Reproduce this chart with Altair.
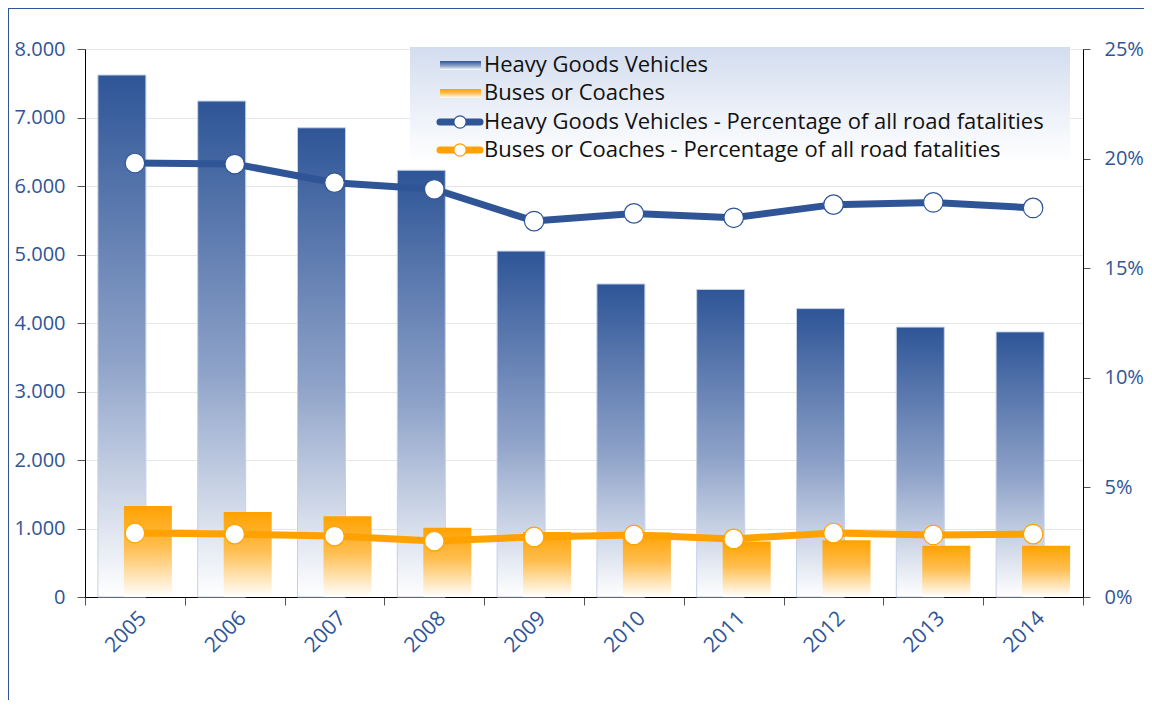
import altair as alt
import pandas as pd

years = ["2005", "2006", "2007", "2008", "2009", "2010", "2011", "2012", "2013", "2014"]
hgv_fatalities = [7620, 7240, 6850, 6230, 5050, 4570, 4490, 4210, 3940, 3870]
bus_fatalities = [1330, 1240, 1180, 1010, 950, 940, 810, 830, 750, 750]
hgv_share = [19.8, 19.75, 18.9, 18.6, 17.15, 17.5, 17.3, 17.9, 18.0, 17.75]
bus_share = [2.92, 2.87, 2.78, 2.55, 2.74, 2.83, 2.65, 2.92, 2.83, 2.87]
left_ticks = [0, 1000, 2000, 3000, 4000, 5000, 6000, 7000, 8000]
right_ticks = [0, 5, 10, 15, 20, 25]
legend_labels = [
    "Heavy Goods Vehicles",
    "Buses or Coaches",
    "Heavy Goods Vehicles - Percentage of all road fatalities",
    "Buses or Coaches - Percentage of all road fatalities",
]

BLUE = "#2F5597"
ORANGE = "#FFA200"
FONT = "Open Sans"


def vgrad(stops):
    return {
        "gradient": "linear", "x1": 0, "x2": 0, "y1": 0, "y2": 1,
        "stops": [{"offset": o, "color": c} for o, c in stops],
    }


hgv_grad = vgrad([(0, "#2E5597"), (0.55, "#8FA3C9"), (1, "#FFFFFF")])
bus_grad = vgrad([(0, "#FFA200"), (0.45, "#FFBE50"), (1, "#FFFFFF")])

df = pd.DataFrame({
    "year": years,
    "hgv": hgv_fatalities,
    "bus": bus_fatalities,
    "hgv_pct": hgv_share,
    "bus_pct": bus_share,
})

x_enc = alt.X(
    "year:N", title=None,
    scale=alt.Scale(paddingInner=0, paddingOuter=0),
    axis=alt.Axis(labelAngle=315, tickBand="extent", tickSize=8, labelPadding=2,
                  domainColor="#000000", grid=False, labelFontSize=21),
)

left_axis = alt.Axis(
    values=left_ticks, title=None, tickSize=8, labelPadding=12, grid=True,
    labelExpr="replace(format(datum.value, ',d'), ',', '.')",
)
left_scale = alt.Scale(domain=[0, 8000], nice=False)

hgv_bars = alt.Chart(df).mark_bar(
    width=48, xOffset=-13, color=hgv_grad, stroke="#C5D1E8", strokeWidth=1
).encode(x=x_enc, y=alt.Y("hgv:Q", scale=left_scale, axis=left_axis))

bus_bars = alt.Chart(df).mark_bar(
    width=48, xOffset=13, color=bus_grad, strokeWidth=0
).encode(x=x_enc, y=alt.Y("bus:Q", scale=left_scale, axis=left_axis))

right_axis = alt.Axis(
    orient="right", values=right_ticks, title=None, tickSize=7, labelPadding=14,
    grid=False, labelExpr="datum.value + '%'",
)
right_scale = alt.Scale(domain=[0, 25], nice=False)

hgv_line = alt.Chart(df).mark_line(color=BLUE, strokeWidth=7).encode(
    x=x_enc, y=alt.Y("hgv_pct:Q", scale=right_scale, axis=right_axis))
bus_line = alt.Chart(df).mark_line(color=ORANGE, strokeWidth=7).encode(
    x=x_enc, y=alt.Y("bus_pct:Q", scale=right_scale, axis=right_axis))
hgv_pts = alt.Chart(df).mark_point(
    shape="circle", filled=True, fill="white", stroke=BLUE, strokeWidth=1.2,
    size=380, opacity=1
).encode(x=x_enc, y=alt.Y("hgv_pct:Q", scale=right_scale, axis=right_axis))
bus_pts = alt.Chart(df).mark_point(
    shape="circle", filled=True, fill="white", stroke=ORANGE, strokeWidth=1.2,
    size=380, opacity=1
).encode(x=x_enc, y=alt.Y("bus_pct:Q", scale=right_scale, axis=right_axis))

bars = alt.layer(hgv_bars, bus_bars)
lines = alt.layer(hgv_line, bus_line, hgv_pts, bus_pts)
main = alt.layer(bars, lines).resolve_scale(y="independent")

# ---- manual legend ----
one = pd.DataFrame({"k": [0]})
row_y = [16, 44, 73, 101]
legend_bg = alt.Chart(one).mark_rect(
    color=vgrad([(0, "#D3DDEF"), (0.6, "#EEF2F9"), (1, "#FFFFFF")])
).encode(x=alt.value(325), x2=alt.value(985), y=alt.value(-2), y2=alt.value(114))

leg_df = pd.DataFrame({"label": legend_labels, "ypix": row_y})
leg_text = alt.Chart(leg_df).mark_text(
    align="left", baseline="middle", font=FONT, fontSize=22, color="#111111"
).encode(x=alt.value(399), y=alt.Y("ypix:Q", scale=None), text="label:N")

sw_hgv = alt.Chart(one).mark_rect(color=hgv_grad).encode(
    x=alt.value(355), x2=alt.value(396), y=alt.value(row_y[0] - 4), y2=alt.value(row_y[0] + 5))
sw_bus = alt.Chart(one).mark_rect(color=bus_grad).encode(
    x=alt.value(355), x2=alt.value(396), y=alt.value(row_y[1] - 4), y2=alt.value(row_y[1] + 5))
ln_hgv = alt.Chart(one).mark_rule(color=BLUE, strokeWidth=7, strokeCap="round").encode(
    x=alt.value(355), x2=alt.value(395), y=alt.value(row_y[2]))
ln_bus = alt.Chart(one).mark_rule(color=ORANGE, strokeWidth=7, strokeCap="round").encode(
    x=alt.value(355), x2=alt.value(395), y=alt.value(row_y[3]))
pt_hgv = alt.Chart(one).mark_point(
    shape="circle", filled=True, fill="white", stroke=BLUE, strokeWidth=1.2, size=150, opacity=1
).encode(x=alt.value(375), y=alt.value(row_y[2]))
pt_bus = alt.Chart(one).mark_point(
    shape="circle", filled=True, fill="white", stroke=ORANGE, strokeWidth=1.2, size=150, opacity=1
).encode(x=alt.value(375), y=alt.value(row_y[3]))

# ---- frame ----
frame_top = alt.Chart(one).mark_rule(color=BLUE, strokeWidth=1).encode(
    x=alt.value(-77), x2=alt.value(1100), y=alt.value(-40.5))
frame_left = alt.Chart(one).mark_rule(color=BLUE, strokeWidth=1).encode(
    x=alt.value(-76.5), y=alt.value(-41), y2=alt.value(720))

chart = alt.layer(
    main, legend_bg, sw_hgv, sw_bus, ln_hgv, ln_bus, pt_hgv, pt_bus, leg_text,
    frame_top, frame_left,
).properties(
    width=998, height=548,
    autosize=alt.AutoSizeParams(type="none"),
    padding={"left": 77, "top": 41, "right": 61, "bottom": 103},
).configure_axis(
    labelFont=FONT, labelFontSize=20, labelColor=BLUE,
    domainColor="#000000", tickColor="#555555", gridColor="#E6E6E6",
).configure_view(stroke="transparent")

chart.save("out.html", embed_options={"renderer": "svg", "actions": False})
